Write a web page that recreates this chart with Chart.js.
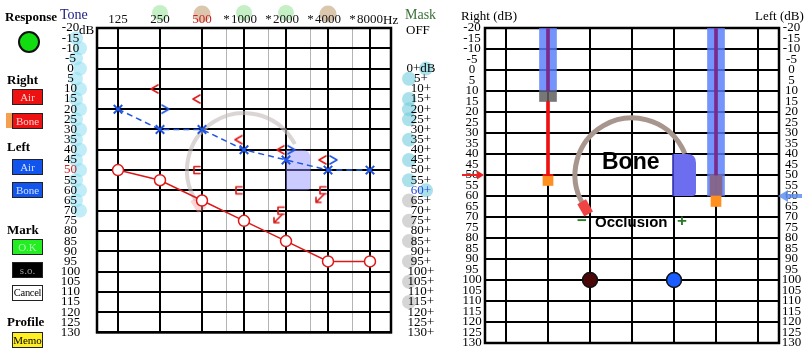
<!DOCTYPE html>
<html><head><meta charset="utf-8">
<script src="https://cdn.jsdelivr.net/npm/chart.js@4.4.1/dist/chart.umd.min.js"></script>
<style>
html,body{margin:0;padding:0;background:#fff;}
body{width:812px;height:357px;position:relative;overflow:hidden;font-family:'Liberation Serif','Times New Roman',serif;color:#000;}
.t{position:absolute;white-space:nowrap;line-height:1;}
.b{font-weight:bold;font-size:13px;}
.btn{position:absolute;left:12px;width:29px;height:14px;border:1px solid #222;font-size:11px;line-height:14px;text-align:center;white-space:nowrap;overflow:visible;font-family:'Liberation Serif','Times New Roman',serif;}
canvas{position:absolute;top:0;}
#c1{left:0;}
#c2{left:445px;}
.sans{font-family:'Liberation Sans',Arial,sans-serif;font-weight:bold;}
</style></head><body>
<canvas id="c1" width="450" height="357" style="width:450px;height:357px"></canvas>
<canvas id="c2" width="367" height="357" style="width:367px;height:357px"></canvas>

<div class="t b" style="left:5px;top:10px;">Response</div>
<div style="position:absolute;left:18px;top:31px;width:18px;height:18px;border-radius:50%;background:#11dd11;border:2px solid #111;"></div>
<div class="t b" style="left:7px;top:73px;">Right</div>
<div class="btn" style="top:89px;background:#ee1111;color:#ffd0d0;">Air</div>
<div style="position:absolute;left:6px;top:113px;width:6px;height:15px;background:#f5a050;"></div>
<div class="btn" style="top:113px;background:#ee1111;color:#ffd0d0;">Bone</div>
<div class="t b" style="left:7px;top:140px;">Left</div>
<div class="btn" style="top:159px;background:#1155ee;color:#d0e0ff;">Air</div>
<div class="btn" style="top:182px;background:#1155ee;color:#d0e0ff;">Bone</div>
<div class="t b" style="left:7px;top:223px;">Mark</div>
<div class="btn" style="top:239px;background:#22ee22;color:#aaffaa;">O.K</div>
<div class="btn" style="top:262px;background:#000;color:#999;">s.o.</div>
<div class="btn" style="top:285px;background:#fff;color:#000;font-size:10.5px;letter-spacing:-0.3px;">Cancel</div>
<div class="t b" style="left:7px;top:315px;">Profile</div>
<div class="btn" style="top:332px;background:#ffee22;color:#000;">Memo</div>

<div class="t" style="left:60px;top:8px;font-size:14px;color:#1c1c80;">Tone</div>
<div class="t" style="left:79px;top:22.5px;font-size:13px;">dB</div>
<div class="t" style="left:383px;top:13px;font-size:13px;">Hz</div>
<div class="t" style="left:405px;top:8px;font-size:14px;color:#3a703a;">Mask</div>
<div class="t" style="left:406px;top:22.5px;font-size:13px;">OFF</div>
<div class="t" style="left:461px;top:8.5px;font-size:13px;">Right (dB)</div>
<div class="t" style="left:755px;top:8.5px;font-size:13px;">Left (dB)</div>
<div class="t sans" style="left:602px;top:150px;font-size:23px;">Bone</div>
<div class="t sans" style="left:577px;top:212px;font-size:17px;color:#2a7a2a;">&#8722;</div>
<div class="t sans" style="left:595px;top:213.5px;font-size:15px;">Occlusion</div>
<div class="t sans" style="left:677px;top:212px;font-size:17px;color:#2a7a2a;">+</div>

<script>
// ---------- data ----------
const FREQS = [125, 250, 500, 1000, 2000, 4000, 8000];
const FREQ_LABELS = ['125', '250', '500', '1000', '2000', '4000', '8000'];
const MID_FREQS = [750, 1500, 3000, 6000];
const DB_TICKS = [-20,-15,-10,-5,0,5,10,15,20,25,30,35,40,45,50,55,60,65,70,75,80,85,90,95,100,105,110,115,120,125,130];

const RIGHT_AIR = [50, 55, 65, 75, 85, 95, 95];
const LEFT_AIR = [20, 30, 30, 40, 45, 50, 50];
const RIGHT_BONE_FREQ = [250, 500, 1000, 2000, 4000];
const RIGHT_BONE = [10, 15, 35, 40, 45];
const LEFT_BONE_FREQ = [250, 2000, 4000];
const LEFT_BONE = [20, 40, 45];
const RIGHT_MASKED_FREQ = [500, 1000, 2000, 4000];
const RIGHT_MASKED = [50, 60, 70, 60];
const NO_RESP_FREQ = [2000, 4000];
const NO_RESP = [70, 60];

const HEADER_GREEN = [250, 1000, 2000];
const HEADER_BROWN = [500, 4000];
const TONE_MARKS = [-15,-10,-5,0,5,10,15,20,25,30,35,40,45,50,55,60,65,70];
const MASK_CYAN = [0, 5, 15, 20, 25, 35, 45, 55, 60];
const MASK_GRAY = [65, 75, 85, 95, 105, 115];

// right panel (columns 0..6)
const RP_COLUMNS = [0, 1, 2, 3, 4, 5, 6];
const RP_RIGHT_COL = 1, RP_LEFT_COL = 5, RP_DIAL_COL = 3;
const RP_LEVEL = [[-20, 10], [-20, 60]];
const RP_GRAY = [[10, 15]];
const RP_LEFT_SQ = [[50, 60]];
const RP_PURPLE = [[-20, 10], [-20, 50]];
const RP_RED = [[15, 50]];
const RP_ORANGE = [[50, 55], [60, 65]];
const RP_TICK = [50];
const RP_BALL_COLS = [2, 4];
const RP_BALL_DB = [100, 100];
const RP_RIGHT_ARROW_DB = 50, RP_LEFT_ARROW_DB = 60;
const DIAL_DB = 50;

const FONT = "'Liberation Serif','Times New Roman',serif";

// ---------- glyphs ----------
function glyph(w, h, draw) {
  const c = document.createElement('canvas'); c.width = w; c.height = h;
  const g = c.getContext('2d'); g.lineWidth = 1.6; g.lineCap = 'round'; g.lineJoin = 'round';
  draw(g); return c;
}
const LT_RED = glyph(26, 14, g => { g.strokeStyle = '#e01818'; g.beginPath(); g.moveTo(11, 3); g.lineTo(4, 7); g.lineTo(11, 11); g.stroke(); });
const GT_BLUE = glyph(26, 14, g => { g.strokeStyle = '#1f55e0'; g.beginPath(); g.moveTo(15, 3); g.lineTo(22, 7); g.lineTo(15, 11); g.stroke(); });
const BRACKET_RED = glyph(26, 14, g => { g.strokeStyle = '#d81818'; g.beginPath(); g.moveTo(11, 3.5); g.lineTo(5, 3.5); g.lineTo(5, 10.5); g.lineTo(11, 10.5); g.stroke(); });
const ARROW_RED = glyph(30, 30, g => { g.strokeStyle = '#d81818'; g.beginPath(); g.moveTo(11, 19); g.lineTo(3, 27); g.moveTo(3, 27); g.lineTo(3, 22); g.moveTo(3, 27); g.lineTo(8, 27); g.stroke(); });

const pts = (fs, vs) => fs.map((f, i) => ({ x: f, y: vs[i] }));
const deg = d => d * Math.PI / 180;

function frame(chart) {
  const { ctx, chartArea: a } = chart;
  ctx.save(); ctx.strokeStyle = '#000'; ctx.lineWidth = 2.5;
  ctx.strokeRect(a.left, a.top, a.right - a.left, a.bottom - a.top); ctx.restore();
}
function roundShape(ctx, x0, y0, x1, y1, r) {
  ctx.beginPath(); ctx.moveTo(x0, y0); ctx.lineTo(x1 - r, y0);
  ctx.quadraticCurveTo(x1, y0, x1, y0 + r); ctx.lineTo(x1, y1 - 4);
  ctx.quadraticCurveTo(x1, y1, x1 - 4, y1); ctx.lineTo(x0, y1); ctx.closePath();
}
function dial(ctx, cx, cy, r, a0, a1, color, width, capColor) {
  ctx.save(); ctx.strokeStyle = color; ctx.lineWidth = width;
  ctx.beginPath(); ctx.arc(cx, cy, r, deg(a0), deg(a1)); ctx.stroke();
  const t = deg(a0); const ux = Math.cos(t), uy = Math.sin(t), vx = Math.sin(t), vy = -Math.cos(t);
  ctx.transform(ux, uy, vx, vy, cx + r * ux, cy + r * uy);
  ctx.fillStyle = capColor; ctx.fillRect(-5, -2, 10, 14);
  ctx.restore();
}

const decor1 = {
  id: 'decor1',
  beforeDraw(chart) {
    const ctx = chart.ctx, x = chart.scales.x, y = chart.scales.y;
    ctx.save();
    HEADER_GREEN.forEach(f => { ctx.fillStyle = 'rgba(110,215,110,0.4)'; ctx.beginPath(); ctx.arc(x.getPixelForValue(f), 13, 8, 0, 7); ctx.fill(); });
    HEADER_BROWN.forEach(f => { ctx.fillStyle = 'rgba(175,130,75,0.45)'; ctx.beginPath(); ctx.arc(x.getPixelForValue(f), 14, 8.5, 0, 7); ctx.fill(); });
    TONE_MARKS.forEach((d, i) => { ctx.fillStyle = 'rgba(140,222,240,0.55)'; ctx.beginPath(); ctx.arc(i % 2 ? 80 : 76, y.getPixelForValue(d), 7, 0, 7); ctx.fill(); });
    MASK_CYAN.forEach(d => { ctx.fillStyle = 'rgba(115,205,220,0.6)'; ctx.beginPath(); ctx.arc(d === 0 || d === 60 ? 426 : 409, y.getPixelForValue(d), 7, 0, 7); ctx.fill(); });
    MASK_GRAY.forEach(d => { ctx.fillStyle = 'rgba(185,185,185,0.6)'; ctx.beginPath(); ctx.arc(409, y.getPixelForValue(d), 7, 0, 7); ctx.fill(); });
    ctx.restore();
  },
  beforeDatasetsDraw(chart) {
    const ctx = chart.ctx, x = chart.scales.x, y = chart.scales.y;
    frame(chart);
    ctx.save();
    ctx.fillStyle = 'rgba(140,140,255,0.45)';
    roundShape(ctx, x.getPixelForValue(2000), y.getPixelForValue(40), x.getPixelForValue(3000), y.getPixelForValue(60), 9);
    ctx.fill(); ctx.restore();
    dial(ctx, x.getPixelForValue(1000), y.getPixelForValue(DIAL_DB), 57, 148, 333, 'rgba(195,185,185,0.6)', 4, 'rgba(255,160,160,0.45)');
  }
};

const decor2 = {
  id: 'decor2',
  beforeDatasetsDraw(chart) {
    const ctx = chart.ctx, x = chart.scales.x, y = chart.scales.y;
    frame(chart);
    ctx.save();
    const x0 = x.getPixelForValue(4) - 1, x1 = x0 + 23, y0 = y.getPixelForValue(40), y1 = y.getPixelForValue(60);
    ctx.fillStyle = '#6d6df0'; roundShape(ctx, x0, y0, x1, y1, 9); ctx.fill();
    ctx.strokeStyle = '#2a2aa8'; ctx.lineWidth = 1.5; ctx.beginPath(); ctx.moveTo(x0, y0); ctx.lineTo(x0, y1); ctx.stroke();
    ctx.restore();
    dial(ctx, x.getPixelForValue(RP_DIAL_COL), y.getPixelForValue(DIAL_DB), 57, 150, 338, '#a8968e', 5, '#f04444');
  },
  afterDraw(chart) {
    const ctx = chart.ctx, y = chart.scales.y, a = chart.chartArea;
    ctx.save();
    let yy = y.getPixelForValue(RP_RIGHT_ARROW_DB);
    ctx.strokeStyle = '#ee2020'; ctx.fillStyle = '#ee2020'; ctx.lineWidth = 2;
    ctx.beginPath(); ctx.moveTo(a.left - 23, yy); ctx.lineTo(a.left - 6, yy); ctx.stroke();
    ctx.beginPath(); ctx.moveTo(a.left - 1, yy); ctx.lineTo(a.left - 8, yy - 4.5); ctx.lineTo(a.left - 8, yy + 4.5); ctx.closePath(); ctx.fill();
    yy = y.getPixelForValue(RP_LEFT_ARROW_DB);
    ctx.strokeStyle = 'rgba(95,145,240,0.85)'; ctx.fillStyle = 'rgba(95,145,240,0.85)'; ctx.lineWidth = 4;
    ctx.beginPath(); ctx.moveTo(a.right + 8, yy); ctx.lineTo(a.right + 23, yy); ctx.stroke();
    ctx.beginPath(); ctx.moveTo(a.right - 1, yy); ctx.lineTo(a.right + 9, yy - 6); ctx.lineTo(a.right + 9, yy + 6); ctx.closePath(); ctx.fill();
    ctx.restore();
  }
};

function dbAxis(position, width, pad, cb, color, gridOn) {
  return {
    type: 'linear', position, min: -20, max: 130, reverse: true,
    afterBuildTicks: s => { s.ticks = DB_TICKS.map(v => ({ value: v })); },
    afterFit: s => { s.width = width; },
    grid: gridOn ? { drawTicks: false, color: c => (c.tick && c.tick.value % 10 === 0) ? '#000' : 'rgba(0,0,0,0)', lineWidth: 2 } : { display: false, drawTicks: false },
    border: { display: false },
    ticks: { autoSkip: false, crossAlign: 'center', padding: pad, font: { family: FONT, size: 13 }, color, callback: cb }
  };
}

// ---------- left audiogram ----------
new Chart(document.getElementById('c1'), {
  type: 'scatter',
  data: {
    datasets: [
      { label: 'Right air', data: pts(FREQS, RIGHT_AIR), showLine: true, borderColor: '#dd1818', borderWidth: 1.5,
        pointStyle: 'circle', pointRadius: 5.5, pointBorderWidth: 1.5, pointBackgroundColor: '#fff', pointBorderColor: '#dd1818', order: 5 },
      { label: 'Left air', data: pts(FREQS, LEFT_AIR), showLine: true, borderColor: '#1f55e0', borderWidth: 1.5, borderDash: [6, 4],
        pointStyle: 'crossRot', pointRadius: 6, pointBorderWidth: 2, pointBorderColor: '#1f55e0', order: 4 },
      { label: 'Right bone', data: pts(RIGHT_BONE_FREQ, RIGHT_BONE), pointStyle: LT_RED, order: 3 },
      { label: 'Left bone', data: pts(LEFT_BONE_FREQ, LEFT_BONE), pointStyle: GT_BLUE, order: 3 },
      { label: 'Right bone masked', data: pts(RIGHT_MASKED_FREQ, RIGHT_MASKED), pointStyle: BRACKET_RED, order: 2 },
      { label: 'No response', data: pts(NO_RESP_FREQ, NO_RESP), pointStyle: ARROW_RED, order: 1 }
    ]
  },
  options: {
    responsive: false, animation: false, devicePixelRatio: 1,
    layout: { padding: { left: 50, right: 5, top: 0, bottom: 14 } },
    plugins: { legend: { display: false }, tooltip: { enabled: false } },
    scales: {
      x: {
        type: 'logarithmic', position: 'top', min: 125 / Math.SQRT2, max: 8000 * Math.SQRT2, offset: false,
        afterBuildTicks: s => { s.ticks = FREQS.concat(MID_FREQS).map(v => ({ value: v })); },
        afterFit: s => { s.height = 28; },
        grid: { drawTicks: false, offset: false,
          color: c => (c.tick && MID_FREQS.includes(c.tick.value)) ? '#b4b4b4' : '#000',
          lineWidth: c => (c.tick && MID_FREQS.includes(c.tick.value)) ? 1 : 2 },
        border: { display: false },
        ticks: { autoSkip: false, minRotation: 0, maxRotation: 0, padding: 1, font: { family: FONT, size: 13 },
          color: c => (c.tick && c.tick.value === 500) ? '#cc2020' : '#111',
          callback: v => { const i = FREQS.indexOf(v); if (i >= 0) return FREQ_LABELS[i]; return MID_FREQS.includes(v) ? '*' : ''; } }
      },
      y: dbAxis('left', 47, 16.75, v => String(v), c => (c.tick && c.tick.value === 50) ? '#cc2020' : '#000', true),
      y2: dbAxis('right', 54, 15.5, v => v < 0 ? '' : (v === 0 ? '0+dB' : v + '+'), c => (c.tick && c.tick.value === 60) ? '#2244dd' : '#000', false)
    }
  },
  plugins: [decor1]
});

// ---------- right panel ----------
const bar = (data, color, w, order) => ({ type: 'bar', data, backgroundColor: color, barThickness: w, maxBarThickness: w, grouped: false, order });
new Chart(document.getElementById('c2'), {
  type: 'scatter',
  data: {
    datasets: [
      bar([{ x: RP_RIGHT_COL, y: RP_LEVEL[0] }, { x: RP_LEFT_COL, y: RP_LEVEL[1] }], 'rgba(85,125,250,0.82)', 17, 10),
      bar([{ x: RP_RIGHT_COL, y: RP_GRAY[0] }], 'rgba(95,95,95,0.85)', 17, 9),
      bar([{ x: RP_LEFT_COL, y: RP_LEFT_SQ[0] }], 'rgba(135,100,135,0.95)', 12, 9),
      bar([{ x: RP_RIGHT_COL, y: RP_PURPLE[0] }, { x: RP_LEFT_COL, y: RP_PURPLE[1] }], '#7a2a8a', 3, 8),
      bar([{ x: RP_RIGHT_COL, y: RP_RED[0] }], '#ee1111', 3, 7),
      bar([{ x: RP_RIGHT_COL, y: RP_ORANGE[0] }, { x: RP_LEFT_COL, y: RP_ORANGE[1] }], '#ff9020', 10, 6),
      { data: [{ x: RP_RIGHT_COL, y: RP_TICK[0] }], pointStyle: 'line', pointRadius: 5, pointBorderWidth: 2, pointBorderColor: '#ee1111', order: 5 },
      { data: RP_BALL_COLS.map((c, i) => ({ x: c, y: RP_BALL_DB[i] })), pointStyle: 'circle', pointRadius: 7.5,
        pointBackgroundColor: ['#4a0808', '#1a5cff'], pointBorderColor: '#111', pointBorderWidth: 1.5, order: 1 }
    ]
  },
  options: {
    responsive: false, animation: false, devicePixelRatio: 1,
    layout: { padding: { left: 2, right: 2, top: 28, bottom: 14 } },
    plugins: { legend: { display: false }, tooltip: { enabled: false } },
    scales: {
      x: {
        type: 'linear', position: 'bottom', min: -0.5, max: 6.5, offset: false,
        afterBuildTicks: s => { s.ticks = RP_COLUMNS.map(v => ({ value: v })); },
        afterFit: s => { s.height = 0; },
        grid: { drawTicks: false, offset: false, color: '#000', lineWidth: 2 },
        border: { display: false },
        ticks: { display: false }
      },
      y: dbAxis('left', 38, 3.25, v => String(v), '#000', true),
      y2: dbAxis('right', 31, 2.75, v => String(v), '#000', false)
    }
  },
  plugins: [decor2]
});
</script>
</body></html>
